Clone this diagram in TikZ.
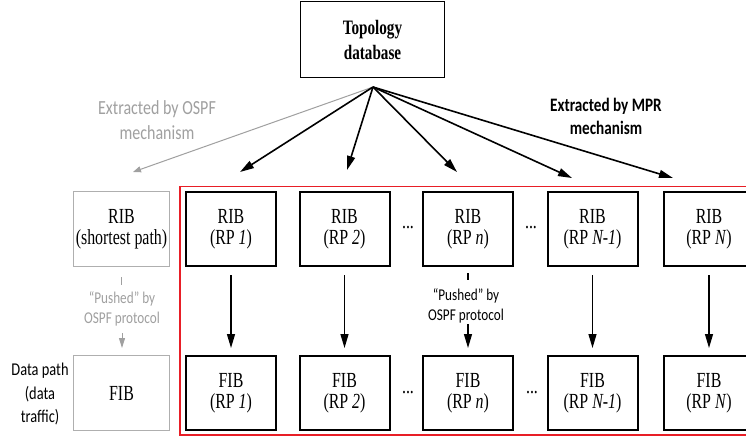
\documentclass[tikz,border=0pt]{standalone}
\usepackage{fontspec}
\setmainfont{Liberation Serif}[FakeStretch=0.74]
\newfontfamily\sansf{Carlito}[FakeStretch=0.8]
\usetikzlibrary{arrows.meta}
\definecolor{greyc}{RGB}{160,160,160}
\definecolor{gboxc}{RGB}{175,175,175}
\definecolor{redc}{RGB}{232,30,38}
\tikzset{
  topbox/.style={draw=black, line width=1pt, minimum width=144pt, minimum height=76pt, inner sep=0pt, align=center, font=\bfseries\fontsize{20.5}{25}\selectfont},
  bbox/.style={draw=black, line width=2pt, minimum width=90pt, minimum height=74pt, inner sep=0pt, align=center, font=\fontsize{21.5}{21}\selectfont},
  gbox/.style={draw=gboxc, line width=1pt, minimum width=96pt, minimum height=75pt, inner sep=0pt, align=center, font=\fontsize{21.5}{21}\selectfont},
  pushtext/.style={inner sep=0pt, align=center, font=\sansf\fontsize{16.5}{20}\selectfont},
  dotsnode/.style={inner sep=0pt, font=\fontsize{21.5}{21}\selectfont},
  marrow/.style={draw=black, line width=1.6pt, -{Triangle[length=14pt,width=8pt]}},
  garrow/.style={draw=greyc, line width=1pt, -{Triangle[length=8pt,width=6pt]}},
  varrow/.style={draw=black, line width=1.3pt, -{Triangle[length=14pt,width=8pt]}},
  gvarrow/.style={draw=greyc, line width=1pt, -{Triangle[length=10pt,width=6pt]}},
  tickline/.style={draw=black, line width=1.3pt},
  gtickline/.style={draw=greyc, line width=1pt},
}
\begin{document}
\begin{tikzpicture}[x=1pt,y=-1pt]
\useasboundingbox (0,0) rectangle (746,440);
\clip (0,0) rectangle (746,440);
\fill[white] (0,0) rectangle (746,440);

% top box
\node[topbox] (top) at (372.5,39.5) {Topology\\database};
\coordinate (src) at (373,87);
\coordinate (eg) at (133,172);
\coordinate (e1) at (240,172);
\coordinate (e2) at (347,170);
\coordinate (en) at (457,172);
\coordinate (eN1) at (572,178);
\coordinate (eN) at (673,178);

% labels
\node[inner sep=0pt, align=center, text=greyc, font=\sansf\fontsize{20}{25}\selectfont] (lospf) at (157,120) {Extracted by OSPF\\mechanism};
\node[inner sep=0pt, align=center, font=\sansf\bfseries\fontsize{19}{23}\selectfont] (lmpr) at (606,116) {Extracted by MPR\\mechanism};

% red frame
\draw[redc, line width=1.5pt] (180,186.5) rectangle (758,435);

% RIB row
\node[gbox] (ribg) at (121.5,229) {RIB\\(shortest path)};
\node[bbox] (rib1) at (231,229) {RIB\\(RP \textit{1})};
\node[bbox] (rib2) at (344.5,229) {RIB\\(RP \textit{2})};
\node[bbox] (ribn) at (468,229) {RIB\\(RP \textit{n})};
\node[bbox] (ribN1) at (592.5,229) {RIB\\(RP \textit{N-1})};
\node[bbox] (ribN) at (709,229) {RIB\\(RP \textit{N})};

% FIB row
\node[gbox] (fibg) at (121.5,393) {FIB};
\node[bbox] (fib1) at (231,393) {FIB\\(RP \textit{1})};
\node[bbox] (fib2) at (344.5,393) {FIB\\(RP \textit{2})};
\node[bbox] (fibn) at (468,393) {FIB\\(RP \textit{n})};
\node[bbox] (fibN1) at (592.5,393) {FIB\\(RP \textit{N-1})};
\node[bbox] (fibN) at (709,393) {FIB\\(RP \textit{N})};

% dots
\node[dotsnode] (d1) at (408,228) {...};
\node[dotsnode] (d2) at (531,228) {...};
\node[dotsnode] (d3) at (408,393) {...};
\node[dotsnode] (d4) at (532,393) {...};

% data path label
\node[inner sep=0pt, align=center, font=\sansf\fontsize{18}{23.5}\selectfont] (dp) at (40,394) {Data path\\(data\\traffic)};

% arrows from topology
\draw[garrow] (src) -- (eg);
\draw[marrow] (src) -- (e1);
\draw[marrow] (src) -- (e2);
\draw[marrow] (src) -- (en);
\draw[marrow] (src) -- (eN1);
\draw[marrow] (src) -- (eN);

% pushed texts
\node[pushtext, text=greyc] (pushg) at (122,309) {“Pushed” by\\OSPF protocol};
\node[pushtext] (pushn) at (466,306) {“Pushed” by\\OSPF protocol};

% grey vertical
\draw[gtickline] ([yshift=-10pt]ribg.south) -- ([yshift=-18pt]ribg.south);
\draw[gvarrow, shorten <=7pt, shorten >=7pt] (pushg.south) -- (pushg.south |- fibg.north);

% RP n vertical
\draw[tickline] ([yshift=-6pt]ribn.south) -- ([yshift=-13pt]ribn.south);
\draw[varrow, shorten <=1pt, shorten >=7pt] (pushn.south -| fibn.north) -- (fibn.north);

% black verticals
\draw[varrow, shorten <=8pt, shorten >=7pt] (rib1.south) -- (fib1.north);
\draw[varrow, shorten <=8pt, shorten >=7pt] (rib2.south) -- (fib2.north);
\draw[varrow, shorten <=8pt, shorten >=7pt] (ribN1.south) -- (fibN1.north);
\draw[varrow, shorten <=8pt, shorten >=7pt] (ribN.south) -- (fibN.north);
\end{tikzpicture}
\end{document}
